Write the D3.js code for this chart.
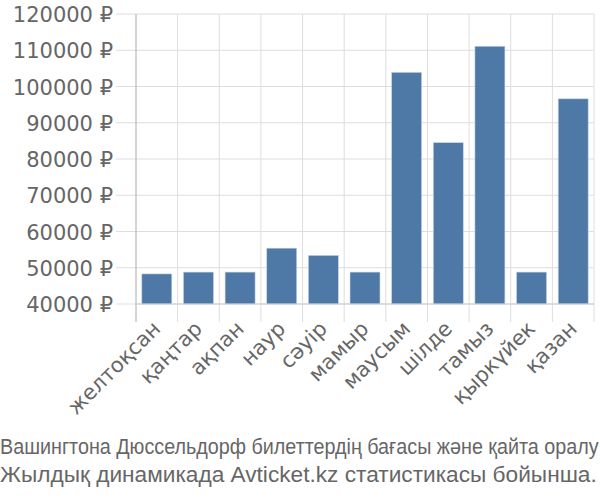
<!DOCTYPE html>
<html>
<head>
<meta charset="utf-8">
<script src="https://cdn.jsdelivr.net/npm/d3@7"></script>
<style>
  body { margin: 0; background: #fff; }
</style>
</head>
<body>
<div id="chart"></div>
<script>
// months and average ticket prices (rubles)
let months = ['желтоқсан', 'қаңтар', 'ақпан', 'наур', 'сәуір', 'мамыр', 'маусым', 'шілде', 'тамыз', 'қыркүйек', 'қазан']
let prices = [48300, 48800, 48800, 55400, 53400, 48800, 103900, 84500, 111100, 48800, 96600]
let yTicks = [40000, 50000, 60000, 70000, 80000, 90000, 100000, 110000, 120000]
let caption = ['Вашингтона Дюссельдорф билеттердің бағасы және қайта оралу', 'Жылдық динамикада Avticket.kz статистикасы бойынша.']

let width = 600, height = 500
let plotLeft = 136, plotRight = 594, plotTop = 14, plotBottom = 304

let svg = d3.select('#chart').append('svg')
    .attr('width', width)
    .attr('height', height)

let x = d3.scaleBand()
    .domain(months)
    .range([plotLeft, plotRight])
    .paddingInner(0.28)
    .paddingOuter(0.14)

let y = d3.scaleLinear()
    .domain([40000, 120000])
    .range([plotBottom, plotTop])

// horizontal grid
svg.append('g')
    .selectAll('line')
    .data(yTicks)
    .join('line')
    .attr('x1', plotLeft - 20)
    .attr('x2', plotRight)
    .attr('y1', d => y(d))
    .attr('y2', d => y(d))
    .style('stroke', '#dddddd')
    .style('stroke-width', 1)

// vertical grid at band edges
let edges = months.map((m, i) => i + 1)
svg.append('g')
    .selectAll('line')
    .data(edges)
    .join('line')
    .attr('x1', i => plotLeft + i * x.step())
    .attr('x2', i => plotLeft + i * x.step())
    .attr('y1', plotTop)
    .attr('y2', plotBottom + 18)
    .style('stroke', '#dddddd')
    .style('stroke-width', 1)

// bars
svg.append('g')
    .selectAll('rect')
    .data(months)
    .join('rect')
    .attr('x', d => x(d))
    .attr('width', x.bandwidth())
    .attr('y', (d, i) => y(prices[i]))
    .attr('height', (d, i) => plotBottom - y(prices[i]))
    .attr('fill', '#4e79a7')
    .style('stroke', '#c6d3e3')
    .style('stroke-width', 0.6)

// y axis line
svg.append('line')
    .attr('x1', plotLeft)
    .attr('x2', plotLeft)
    .attr('y1', plotTop)
    .attr('y2', plotBottom + 18)
    .style('stroke', '#aaaaaa')
    .style('stroke-width', 1)

// baseline
svg.append('line')
    .attr('x1', plotLeft)
    .attr('x2', plotRight)
    .attr('y1', plotBottom)
    .attr('y2', plotBottom)
    .style('stroke', '#cccccc')
    .style('stroke-width', 1)

// y tick labels
svg.append('g')
    .selectAll('text')
    .data(yTicks)
    .join('text')
    .attr('x', plotLeft - 23)
    .attr('y', d => y(d) + 8)
    .text(d => d + ' ₽')
    .style('font-family', '"DejaVu Sans", sans-serif')
    .style('font-size', '21px')
    .style('fill', '#666666')
    .style('text-anchor', 'end')

// x tick labels
svg.append('g')
    .selectAll('text')
    .data(months)
    .join('text')
    .attr('transform', d => 'translate (' + (x(d) + x.bandwidth() / 2 + 5) + ', ' + (plotBottom + 26) + ') rotate(-45)')
    .text(d => d)
    .style('font-family', '"DejaVu Sans", sans-serif')
    .style('font-size', '21px')
    .style('fill', '#666666')
    .style('text-anchor', 'end')

// caption, each line squeezed to the width it takes in the original
let captionWidths = [599, 597]
svg.append('g')
    .selectAll('text')
    .data(caption)
    .join('text')
    .attr('x', 0)
    .attr('y', (d, i) => 454 + i * 28)
    .text(d => d)
    .style('font-family', '"Liberation Sans", Arial, sans-serif')
    .style('font-size', '22px')
    .style('fill', '#666666')
    .each(function (d, i) {
        let len = this.getComputedTextLength()
        let ty = 454 + i * 28
        d3.select(this)
            .attr('y', 0)
            .attr('transform', 'translate (0, ' + ty + ') scale(' + (captionWidths[i] / len) + ', 1)')
    })
</script>
</body>
</html>
